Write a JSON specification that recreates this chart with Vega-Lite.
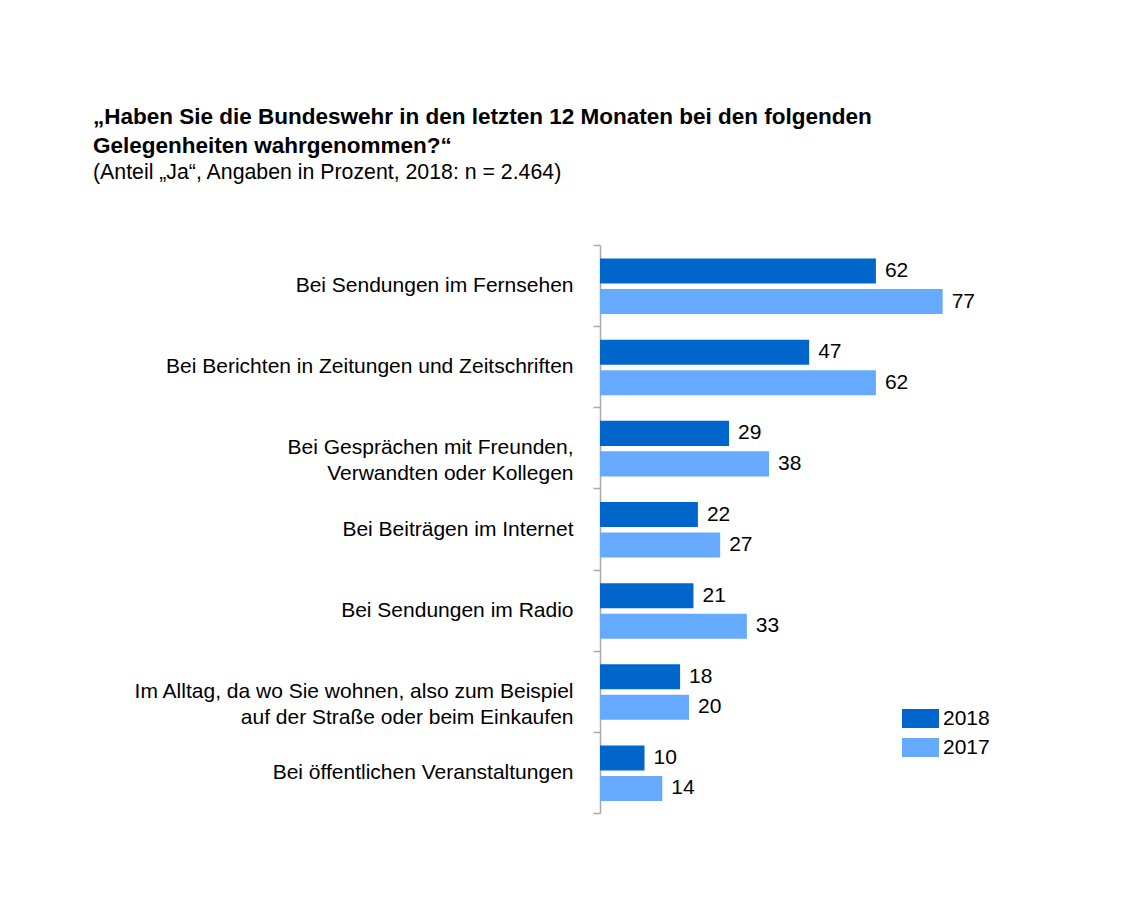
{
  "$schema": "https://vega.github.io/schema/vega-lite/v6.json",
  "width": 445,
  "height": 568,
  "autosize": {"type": "none"},
  "padding": {"left": 600, "top": 245, "right": 85, "bottom": 84},
  "background": "white",
  "config": {"view": {"stroke": null}},
  "title": {
    "text": ["„Haben Sie die Bundeswehr in den letzten 12 Monaten bei den folgenden", "Gelegenheiten wahrgenommen?“"],
    "subtitle": "(Anteil „Ja“, Angaben in Prozent, 2018: n = 2.464)",
    "anchor": "start",
    "frame": "group",
    "dx": -507,
    "offset": 51,
    "font": "Liberation Sans",
    "fontSize": 22.5,
    "fontWeight": "bold",
    "lineHeight": 29,
    "color": "#000000",
    "subtitleFont": "Liberation Sans",
    "subtitleFontSize": 21.3,
    "subtitleColor": "#000000",
    "subtitlePadding": 4,
    "subtitleLineHeight": 27
  },
  "data": {
    "values": [
      {"kategorie": "Bei Sendungen im Fernsehen", "jahr": "2018", "wert": 62},
      {"kategorie": "Bei Sendungen im Fernsehen", "jahr": "2017", "wert": 77},
      {"kategorie": "Bei Berichten in Zeitungen und Zeitschriften", "jahr": "2018", "wert": 47},
      {"kategorie": "Bei Berichten in Zeitungen und Zeitschriften", "jahr": "2017", "wert": 62},
      {"kategorie": "Bei Gesprächen mit Freunden,\nVerwandten oder Kollegen", "jahr": "2018", "wert": 29},
      {"kategorie": "Bei Gesprächen mit Freunden,\nVerwandten oder Kollegen", "jahr": "2017", "wert": 38},
      {"kategorie": "Bei Beiträgen im Internet", "jahr": "2018", "wert": 22},
      {"kategorie": "Bei Beiträgen im Internet", "jahr": "2017", "wert": 27},
      {"kategorie": "Bei Sendungen im Radio", "jahr": "2018", "wert": 21},
      {"kategorie": "Bei Sendungen im Radio", "jahr": "2017", "wert": 33},
      {"kategorie": "Im Alltag, da wo Sie wohnen, also zum Beispiel\nauf der Straße oder beim Einkaufen", "jahr": "2018", "wert": 18},
      {"kategorie": "Im Alltag, da wo Sie wohnen, also zum Beispiel\nauf der Straße oder beim Einkaufen", "jahr": "2017", "wert": 20},
      {"kategorie": "Bei öffentlichen Veranstaltungen", "jahr": "2018", "wert": 10},
      {"kategorie": "Bei öffentlichen Veranstaltungen", "jahr": "2017", "wert": 14}
    ]
  },
  "encoding": {
    "y": {
      "field": "kategorie",
      "type": "nominal",
      "sort": null,
      "scale": {"paddingInner": 0, "paddingOuter": 0},
      "axis": {
        "title": null,
        "labelExpr": "split(datum.label, '\\n')",
        "labelFont": "Liberation Sans",
        "labelFontSize": 21,
        "labelColor": "#000000",
        "labelLineHeight": 26,
        "labelPadding": 20,
        "labelLimit": 0,
        "tickBand": "extent",
        "tickSize": 7,
        "tickWidth": 1.5,
        "tickColor": "#aaaaaa",
        "domainColor": "#aaaaaa",
        "domainWidth": 1.5,
        "grid": false
      }
    },
    "yOffset": {
      "field": "jahr",
      "type": "nominal",
      "sort": ["2018", "2017"],
      "scale": {"paddingInner": 0.18, "paddingOuter": 0.42, "align": 0.53}
    },
    "x": {
      "field": "wert",
      "type": "quantitative",
      "scale": {"domain": [0, 100]},
      "axis": null
    }
  },
  "layer": [
    {
      "mark": {"type": "bar"},
      "encoding": {
        "color": {
          "field": "jahr",
          "type": "nominal",
          "sort": ["2018", "2017"],
          "scale": {"domain": ["2018", "2017"], "range": ["#0066CC", "#66AAFF"]},
          "legend": {
            "title": null,
            "orient": "none",
            "legendX": 302,
            "legendY": 455,
            "symbolType": "M-1,-0.514H1V0.514H-1Z",
            "symbolSize": 1369,
            "symbolStrokeWidth": 0,
            "symbolOpacity": 1,
            "labelFont": "Liberation Sans",
            "labelFontSize": 21,
            "labelColor": "#000000",
            "labelOffset": 4,
            "rowPadding": -2
          }
        }
      }
    },
    {
      "mark": {
        "type": "text",
        "align": "left",
        "baseline": "middle",
        "dx": 9,
        "font": "Liberation Sans",
        "fontSize": 21,
        "color": "#000000"
      },
      "encoding": {
        "text": {"field": "wert", "type": "quantitative"}
      }
    }
  ]
}
